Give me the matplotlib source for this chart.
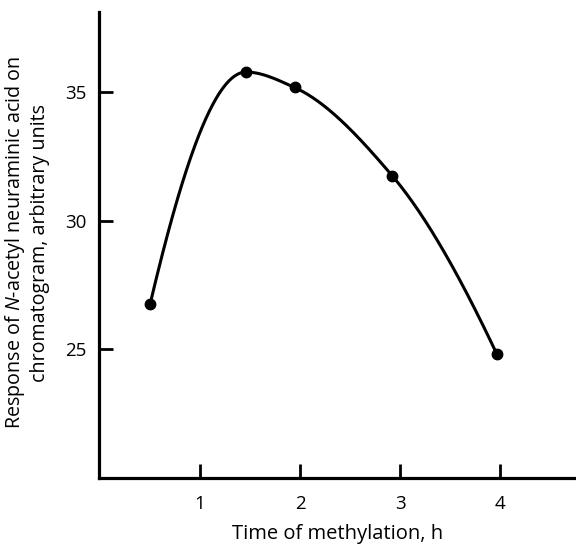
import numpy as np
import matplotlib
matplotlib.use("Agg")
import matplotlib.pyplot as plt

# Data
time_h = [0.5, 1.46, 1.945, 2.92, 3.97]
response = [26.75, 35.77, 35.17, 31.75, 24.8]
xticks = [1, 2, 3, 4]
yticks = [25, 30, 35]

plt.rcParams['font.family'] = ['Open Sans', 'DejaVu Sans']
plt.rcParams['mathtext.fontset'] = 'custom'
plt.rcParams['mathtext.rm'] = 'Open Sans'
plt.rcParams['mathtext.it'] = 'Open Sans:italic'


def pchip(x, y, xs):
    x = np.asarray(x, float); y = np.asarray(y, float)
    h = np.diff(x); d = np.diff(y) / h
    n = len(x)
    m = np.zeros(n)
    for k in range(1, n - 1):
        if d[k - 1] * d[k] <= 0:
            m[k] = 0.0
        else:
            w1 = 2 * h[k] + h[k - 1]; w2 = h[k] + 2 * h[k - 1]
            m[k] = (w1 + w2) / (w1 / d[k - 1] + w2 / d[k])

    def end(h0, h1, d0, d1):
        v = ((2 * h0 + h1) * d0 - h0 * d1) / (h0 + h1)
        if np.sign(v) != np.sign(d0):
            v = 0.0
        elif np.sign(d0) != np.sign(d1) and abs(v) > abs(3 * d0):
            v = 3 * d0
        return v
    m[0] = end(h[0], h[1], d[0], d[1])
    m[-1] = end(h[-1], h[-2], d[-1], d[-2])
    ys = np.empty_like(xs)
    for j, xv in enumerate(xs):
        i = min(max(np.searchsorted(x, xv) - 1, 0), n - 2)
        t = (xv - x[i]) / h[i]
        h00 = 2 * t**3 - 3 * t**2 + 1
        h10 = t**3 - 2 * t**2 + t
        h01 = -2 * t**3 + 3 * t**2
        h11 = t**3 - t**2
        ys[j] = h00 * y[i] + h10 * h[i] * m[i] + h01 * y[i + 1] + h11 * h[i] * m[i + 1]
    return ys


fig = plt.figure(figsize=(5.76, 5.47), dpi=100)
ax = fig.add_axes([0.172, 0.126, 0.828, 0.852])

xs = np.linspace(time_h[0], time_h[-1], 400)
ax.plot(xs, pchip(time_h, response, xs), color='black', lw=2.2)
ax.plot(time_h, response, 'o', color='black', ms=7.5)

ax.set_xlim(-0.01, 4.76)
ax.set_ylim(20.0, 38.1)
ax.set_xticks(xticks)
ax.set_yticks(yticks)
ax.spines['top'].set_visible(False)
ax.spines['right'].set_visible(False)
for s in ('left', 'bottom'):
    ax.spines[s].set_linewidth(2.3)
ax.tick_params(direction='in', length=10, width=2, labelsize=13.5, pad=12)
ax.tick_params(axis='y', pad=9)

ax.set_xlabel('Time of methylation, h', fontsize=14.5, labelpad=8)
ax.set_ylabel('Response of $\\it{N}$-acetyl neuraminic acid on\nchromatogram, arbitrary units',
              fontsize=14.2, linespacing=1.2)
ax.yaxis.set_label_coords(-0.103, 0.505)

fig.savefig('out.png', dpi=100)
